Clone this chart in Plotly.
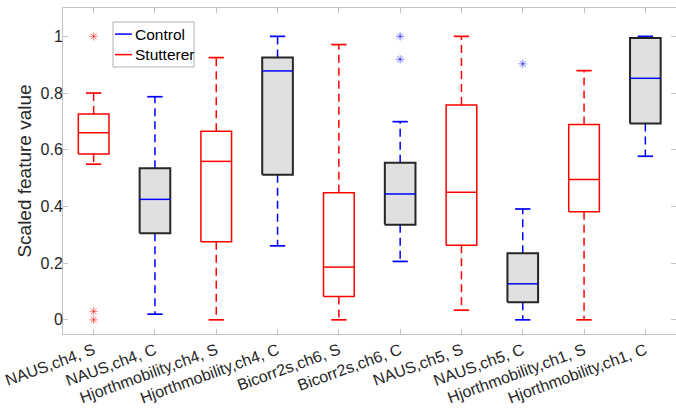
import plotly.graph_objects as go

categories = ["NAUS,ch4, S", "NAUS,ch4, C", "Hjorthmobility,ch4, S", "Hjorthmobility,ch4, C",
              "Bicorr2s,ch6, S", "Bicorr2s,ch6, C", "NAUS,ch5, S", "NAUS,ch5, C",
              "Hjorthmobility,ch1, S", "Hjorthmobility,ch1, C"]
group = ["S", "C", "S", "C", "S", "C", "S", "C", "S", "C"]
lower_whisker = [0.549, 0.020, 0.000, 0.261, 0.000, 0.206, 0.034, 0.000, 0.000, 0.577]
q1 = [0.585, 0.305, 0.275, 0.512, 0.082, 0.335, 0.263, 0.062, 0.381, 0.693]
median = [0.660, 0.425, 0.559, 0.878, 0.186, 0.444, 0.450, 0.127, 0.495, 0.852]
q3 = [0.726, 0.535, 0.665, 0.925, 0.448, 0.554, 0.758, 0.235, 0.689, 0.994]
upper_whisker = [0.800, 0.787, 0.925, 1.000, 0.971, 0.699, 1.000, 0.391, 0.879, 1.000]
outliers = [[1.0, 0.03, 0.0], [], [], [], [], [1.0, 0.919], [], [0.903], [], []]
legend_names = ["Control", "Stutterer"]

BOX_W = 0.25   # half box width
CAP_W = 0.125  # half cap width
colors = {"S": "#ff0000", "C": "#0000ff"}
out_colors = {"S": "rgba(255,0,0,0.5)", "C": "rgba(0,0,255,0.5)"}
FONT = "Liberation Sans, Arial, sans-serif"

fig = go.Figure()
for i, cat in enumerate(categories):
    x = i + 1
    g = group[i]
    c = colors[g]
    # whiskers (dashed)
    for a, b in ((q3[i], upper_whisker[i]), (q1[i], lower_whisker[i])):
        fig.add_trace(go.Scatter(x=[x, x], y=[a, b], mode="lines",
                                 line=dict(color=c, width=1.5, dash="8px,5px"),
                                 showlegend=False, hoverinfo="skip"))
    # caps
    for v in (upper_whisker[i], lower_whisker[i]):
        fig.add_trace(go.Scatter(x=[x - CAP_W, x + CAP_W], y=[v, v], mode="lines",
                                 line=dict(color=c, width=1.7),
                                 showlegend=False, hoverinfo="skip"))
    # box
    bx = [x - BOX_W, x + BOX_W, x + BOX_W, x - BOX_W, x - BOX_W]
    by = [q1[i], q1[i], q3[i], q3[i], q1[i]]
    if g == "C":
        fig.add_trace(go.Scatter(x=bx, y=by, mode="lines", fill="toself", fillcolor="#e0e0e0",
                                 line=dict(color="#262626", width=2),
                                 showlegend=False, hoverinfo="skip"))
    else:
        fig.add_trace(go.Scatter(x=bx, y=by, mode="lines",
                                 line=dict(color=c, width=1.5),
                                 showlegend=False, hoverinfo="skip"))
    # median
    fig.add_trace(go.Scatter(x=[x - BOX_W, x + BOX_W], y=[median[i], median[i]], mode="lines",
                             line=dict(color=c, width=1.5), showlegend=False))
    # outliers
    if outliers[i]:
        fig.add_trace(go.Scatter(x=[x] * len(outliers[i]), y=outliers[i], mode="markers",
                                 marker=dict(symbol="asterisk-open", size=7, color=out_colors[g],
                                             line=dict(color=out_colors[g], width=1)),
                                 showlegend=False))

# manual legend (MATLAB style with short line samples)
shapes = [dict(type="rect", xref="paper", yref="paper", x0=0.0816, x1=0.2137, y0=0.819, y1=0.957,
               line=dict(color="#b0b0b0", width=1), fillcolor="white", layer="above")]
annotations = []
for k, (name, col) in enumerate(zip(legend_names, [colors["C"], colors["S"]])):
    yy = 0.920 - k * 0.063
    shapes.append(dict(type="line", xref="paper", yref="paper", x0=0.0848, x1=0.1125,
                       y0=yy, y1=yy, line=dict(color=col, width=1.5), layer="above"))
    annotations.append(dict(xref="paper", yref="paper", x=0.1135, y=yy, text=name,
                            showarrow=False, xanchor="left", yanchor="middle",
                            font=dict(family=FONT, size=15.5, color="#000000")))

axis_common = dict(showgrid=False, zeroline=False, showline=True, linecolor="#c4c4c4",
                   linewidth=1, mirror="ticks", ticks="inside", ticklen=5,
                   tickcolor="#c4c4c4")
fig.update_layout(
    width=676, height=415,
    margin=dict(l=63, r=0, t=8, b=81),
    plot_bgcolor="white", paper_bgcolor="white",
    font=dict(family=FONT, color="#262626"),
    showlegend=False,
    shapes=shapes, annotations=annotations,
    xaxis=dict(range=[0.5, 10.5], tickmode="array", tickvals=list(range(1, 11)),
               ticktext=categories, tickangle=-20,
               tickfont=dict(family=FONT, size=16, color="#262626"), **axis_common),
    yaxis=dict(range=[-0.05, 1.1], tickmode="array", tickvals=[0, 0.2, 0.4, 0.6, 0.8, 1],
               ticktext=["0", "0.2", "0.4", "0.6", "0.8", "1"],
               tickfont=dict(family=FONT, size=16, color="#262626"),
               ticklabelstandoff=-4,
               title=dict(text="Scaled feature value",
                          font=dict(family=FONT, size=19, color="#262626"), standoff=3),
               **axis_common),
)
fig.write_html("out.html")
